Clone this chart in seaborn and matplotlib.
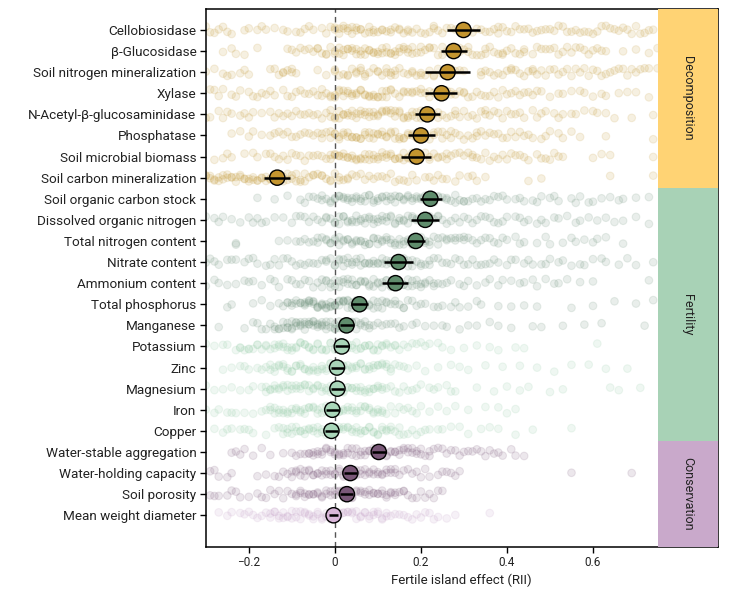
import matplotlib
matplotlib.use("Agg")
import matplotlib.pyplot as plt
import numpy as np
import pandas as pd
import seaborn as sns

labels = [
    "Cellobiosidase", "β-Glucosidase", "Soil nitrogen mineralization", "Xylase",
    "N-Acetyl-β-glucosaminidase", "Phosphatase", "Soil microbial biomass",
    "Soil carbon mineralization", "Soil organic carbon stock",
    "Dissolved organic nitrogen", "Total nitrogen content", "Nitrate content",
    "Ammonium content", "Total phosphorus", "Manganese", "Potassium", "Zinc",
    "Magnesium", "Iron", "Copper", "Water-stable aggregation",
    "Water-holding capacity", "Soil porosity", "Mean weight diameter",
]

# mean RII and error bar limits
mean_rii = [0.299, 0.276, 0.262, 0.248, 0.215, 0.200, 0.190, -0.134,
            0.222, 0.210, 0.188, 0.148, 0.141, 0.057, 0.027, 0.016, 0.005,
            0.006, -0.006, -0.008, 0.102, 0.036, 0.028, -0.003]
err_low = [0.261, 0.247, 0.210, 0.210, 0.187, 0.170, 0.154, -0.165,
           0.199, 0.177, 0.167, 0.115, 0.110, 0.037, 0.012, 0.000, -0.010,
           -0.009, -0.021, -0.022, 0.087, 0.021, 0.013, -0.013]
err_high = [0.338, 0.306, 0.315, 0.285, 0.244, 0.232, 0.224, -0.104,
            0.248, 0.243, 0.210, 0.182, 0.171, 0.078, 0.044, 0.033, 0.022,
            0.022, 0.010, 0.008, 0.118, 0.052, 0.043, 0.008]

# shade of each row: significant rows dark, others light
row_shade = ["dec"] * 8 + ["fer_dark"] * 7 + ["fer_light"] * 5 + ["con_dark"] * 3 + ["con_light"]

# individual observations (RII x 100), estimated from the scatter
pts_cellobiosidase = [-30, -29, -27, -25, -24, -21, -18, -17, -14, -12, -11, -8, -7, -6, -3, -2, 0, 0, 1, 2, 3, 4, 5, 5, 7, 8, 9, 10, 12, 13, 14, 15, 15, 17, 19, 20, 22, 23, 24, 26, 28, 29, 31, 33, 34, 36, 37, 38, 39, 41, 43, 44, 47, 48, 50, 52, 53, 55, 56, 58, 60, 61, 62, 64, 66, 67, 69, 71, 72, 74,
                      -28, -26, -20, -16, -9, -5, -1, 1, 2, 3, 4, 6, 6, 8, 9, 11, 11, 13, 16, 17, 18, 21, 23, 25, 27, 30, 32, 35, 38, 40, 42, 45, 46, 49, 51, 54, 57, 59, 63, 65, 68, 70, 73]
pts_glucosidase = [-26, -23, -21, -18, -11, -9, -8, -6, -5, -4, -3, -2, -1, 0, 1, 2, 3, 4, 5, 6, 7, 8, 9, 10, 11, 12, 13, 14, 15, 16, 17, 18, 18, 20, 21, 22, 23, 25, 26, 27, 28, 29, 30, 31, 32, 34, 35, 36, 38, 39, 40, 42, 43, 44, 46, 47, 49, 50, 51, 52, 54, 55, 56, 58, 60, 61, 63, 67, 70, 73, 75,
                   -24, -10, -7, -4, -2, 0, 1, 2, 3, 4, 5, 6, 7, 8, 9, 10, 11, 12, 13, 14, 15, 16, 17, 19, 20, 22, 24, 25, 27, 29, 31, 33, 35, 37, 39, 41, 44, 48, 53, 57, 59, 62]
pts_n_mineral = [-30, -28, -26, -24, -22, -21, -20, -15, -13, -12, -11, -10, -9, -4, -2, 0, 1, 3, 4, 5, 6, 7, 8, 10, 11, 12, 13, 14, 15, 17, 18, 19, 20, 22, 23, 24, 26, 27, 28, 30, 34, 35, 37, 38, 40, 41, 42, 44, 45, 46, 48, 49, 51, 52, 54, 55, 57, 58, 59, 61, 63, 64, 66, 67, 69, 71, 73, 75,
                 -25, -14, -12, -10, 0, 2, 3, 5, 6, 7, 9, 10, 12, 13, 14, 16, 18, 20, 21, 23, 25, 27, 29, 34, 36, 39, 41, 43, 46, 47, 50, 53, 56, 60, 62, 65, 68, 70, 72]
pts_xylase = [-31, -29, -27, -26, -24, -22, -20, -18, -17, -16, -14, -12, -11, -10, -8, -7, -5, -4, -3, -2, -1, 0, 1, 2, 3, 4, 5, 6, 7, 8, 9, 10, 11, 12, 13, 14, 16, 17, 18, 19, 20, 21, 22, 23, 25, 26, 27, 28, 29, 30, 31, 33, 34, 35, 37, 38, 40, 41, 43, 44, 46, 48, 50, 52, 55, 58, 60, 63, 66, 68, 70, 73,
              -28, -23, -19, -15, -9, -6, -3, -1, 0, 1, 2, 3, 4, 5, 6, 7, 8, 9, 10, 11, 12, 13, 15, 16, 18, 20, 22, 24, 27, 30, 32, 36, 39, 42, 45, 47, 53, 57, 62]
pts_nag = [-30, -29, -27, -25, -24, -22, -21, -19, -17, -15, -14, -12, -11, -10, -8, -7, -6, -4, -3, -1, 0, 1, 2, 3, 4, 5, 6, 7, 8, 9, 10, 11, 12, 13, 14, 15, 16, 17, 18, 19, 20, 21, 22, 23, 24, 25, 27, 28, 29, 30, 32, 33, 34, 35, 36, 38, 39, 41, 42, 44, 46, 47, 49, 51, 53, 56, 58, 61, 63, 65, 69, 74,
           -26, -20, -13, -9, -5, -2, -1, 0, 1, 2, 3, 4, 5, 6, 7, 8, 9, 10, 11, 12, 13, 14, 15, 16, 17, 18, 19, 20, 22, 24, 26, 28, 31, 35, 37, 40, 43, 48, 52, 55, 60]
pts_phosphatase = [-24, -22, -19, -17, -15, -14, -12, -11, -9, -8, -7, -5, -4, -3, -2, -1, 0, 1, 2, 3, 4, 5, 6, 7, 8, 9, 10, 11, 12, 13, 14, 15, 16, 17, 18, 19, 20, 21, 22, 23, 24, 25, 26, 27, 28, 29, 31, 32, 33, 34, 35, 37, 38, 40, 42, 43, 44, 46, 48, 50, 53, 55, 57, 63, 74,
                   -20, -13, -10, -6, -3, -1, 0, 1, 2, 3, 4, 5, 6, 7, 8, 9, 10, 11, 12, 13, 14, 15, 16, 17, 18, 19, 20, 21, 23, 25, 27, 30, 33, 36, 39, 41, 45, 49, 52]
pts_mic_biomass = [-28, -26, -25, -21, -19, -18, -16, -14, -13, -11, -10, -9, -8, -6, -5, -3, -2, -1, 0, 1, 2, 3, 4, 5, 6, 7, 8, 9, 10, 11, 12, 13, 14, 15, 16, 17, 18, 19, 20, 21, 22, 23, 24, 25, 26, 27, 28, 30, 31, 32, 33, 35, 36, 37, 39, 40, 41, 43, 45, 47, 49, 51, 53, 60, 62, 64, 74,
                   -24, -15, -12, -7, -4, -1, 0, 1, 2, 3, 4, 5, 6, 7, 8, 9, 10, 11, 12, 13, 14, 15, 16, 17, 18, 20, 22, 24, 26, 29, 32, 34, 38, 42, 44, 48, 50, 52]
pts_c_mineral = [-31, -30, -30, -29, -28, -27, -27, -26, -25, -25, -24, -23, -22, -21, -21, -20, -19, -19, -18, -17, -16, -16, -15, -14, -13, -12, -12, -11, -10, -9, -8, -8, -7, -6, -5, -4, -3, -2, -1, 0, 1, 2, 3, 4, 6, 7, 9, 10, 11, 13, 14, 16, 17, 19, 21, 23, 24, 26, 29, 31, 33, 35, 45, 48, 64, 74,
                 -31, -29, -28, -26, -24, -23, -22, -20, -18, -17, -15, -14, -13, -11, -10, -9, -7, -5, -3, -1, 1, 3, 5, 8, 12, 15, 18, 22, 25, 28, 32]
pts_soc_stock = [-18, -14, -11, -8, -7, -5, -4, -3, -2, -1, 0, 1, 2, 3, 4, 5, 6, 7, 8, 9, 10, 11, 12, 13, 14, 15, 16, 17, 18, 19, 20, 21, 22, 23, 24, 25, 26, 27, 28, 29, 30, 31, 33, 34, 35, 37, 38, 40, 42, 44, 46, 48, 50, 52, 55, 57, 59, 62, 64, 67, 73,
                 -6, -3, -1, 0, 1, 2, 3, 4, 5, 6, 7, 8, 9, 10, 11, 12, 13, 14, 15, 16, 17, 18, 19, 20, 21, 22, 24, 26, 28, 30, 32, 36, 39, 43, 47, 51, 56, 60, 66, 70]
pts_don = [-30, -28, -27, -24, -22, -20, -19, -17, -16, -14, -12, -9, -8, -6, -4, -3, -2, -1, 0, 1, 2, 3, 4, 5, 6, 7, 8, 9, 10, 11, 12, 13, 14, 15, 16, 17, 18, 19, 20, 21, 22, 23, 24, 25, 26, 28, 29, 30, 32, 33, 35, 37, 38, 40, 42, 43, 45, 47, 49, 52, 54, 57, 61, 63, 67, 73,
           -26, -18, -10, -7, -5, -2, 0, 1, 2, 3, 4, 5, 6, 7, 8, 9, 10, 11, 12, 13, 14, 15, 16, 17, 18, 19, 20, 22, 24, 27, 31, 34, 36, 39, 44, 48, 51, 56, 59, 65, 70]
pts_total_n = [-23, -23, -13, -11, -8, -6, -5, -4, -3, -2, -1, 0, 1, 2, 3, 4, 5, 6, 7, 8, 9, 10, 11, 12, 13, 14, 15, 16, 17, 18, 19, 20, 21, 22, 23, 24, 25, 26, 27, 28, 29, 30, 31, 33, 34, 35, 37, 38, 40, 42, 44, 47, 50, 53, 56, 58, 61, 63, 67,
               -9, -7, -4, -2, -1, 0, 1, 2, 3, 4, 5, 6, 7, 8, 9, 10, 11, 12, 13, 14, 15, 16, 17, 18, 19, 20, 21, 22, 24, 26, 28, 30, 32, 36, 39, 43, 49, 55, 60]
pts_nitrate = [-30, -28, -27, -25, -23, -21, -20, -18, -16, -15, -13, -12, -10, -9, -7, -6, -5, -3, -2, -1, 0, 1, 2, 3, 4, 5, 6, 7, 8, 9, 10, 11, 12, 13, 14, 15, 16, 17, 18, 19, 20, 21, 22, 23, 25, 26, 27, 29, 30, 31, 33, 35, 36, 38, 40, 42, 44, 46, 48, 50, 53, 55, 57, 60, 63, 66, 70, 74,
               -29, -24, -19, -14, -11, -8, -4, -2, 0, 1, 2, 3, 4, 5, 6, 7, 8, 9, 10, 11, 12, 13, 14, 15, 16, 17, 18, 20, 22, 24, 28, 32, 34, 37, 41, 45, 49, 52, 58, 62, 68]
pts_ammonium = [-30, -28, -25, -23, -21, -19, -17, -15, -13, -11, -10, -8, -7, -5, -4, -3, -2, -1, 0, 1, 2, 3, 4, 5, 6, 7, 8, 9, 10, 11, 12, 13, 14, 15, 16, 17, 18, 19, 20, 21, 22, 23, 24, 25, 27, 29, 31, 33, 36, 39, 41, 44, 47, 49, 51, 54, 57, 60, 73,
                -27, -20, -14, -9, -6, -3, -2, -1, 0, 1, 2, 3, 4, 5, 6, 7, 8, 9, 10, 11, 12, 13, 14, 15, 16, 17, 18, 19, 20, 21, 23, 26, 30, 35, 38, 43, 46, 52]
pts_total_p = [-25, -24, -19, -17, -15, -13, -11, -10, -9, -8, -7, -7, -6, -5, -5, -4, -3, -3, -2, -1, -1, 0, 0, 1, 2, 2, 3, 4, 5, 5, 6, 7, 8, 9, 10, 11, 12, 13, 14, 15, 16, 17, 19, 21, 23, 25, 27, 29, 31, 33, 34, 41, 47, 55, 70, 74,
               -12, -11, -10, -9, -8, -7, -6, -6, -5, -4, -4, -3, -2, -2, -1, 0, 1, 1, 2, 3, 3, 4, 4, 6, 7, 8, 9, 10, 11, 12, 14, 16, 18, 20, 24, 28, 38, 44, 60, 65]
pts_manganese = [-27, -21, -19, -17, -16, -15, -14, -13, -12, -11, -10, -10, -9, -8, -8, -7, -6, -6, -5, -4, -3, -3, -2, -1, 0, 0, 1, 2, 3, 4, 5, 6, 7, 8, 9, 10, 12, 14, 16, 18, 21, 23, 26, 29, 33, 38, 46, 53, 58, 62, 72,
                 -18, -14, -13, -12, -11, -11, -10, -9, -9, -8, -7, -7, -6, -5, -5, -4, -4, -3, -2, -2, -1, 0, 1, 1, 2, 3, 4, 5, 6, 7, 8, 11, 13, 15, 19, 25, 31, 36, 41, 48]
pts_potassium = [-30, -28, -26, -23, -22, -21, -20, -19, -18, -17, -16, -15, -14, -13, -12, -11, -10, -9, -8, -7, -6, -5, -4, -3, -2, -1, 0, 1, 2, 3, 4, 5, 6, 7, 8, 9, 10, 11, 12, 13, 14, 15, 16, 18, 20, 22, 24, 27, 30, 36, 38, 42, 44, 61,
                 -25, -22, -20, -18, -16, -14, -13, -12, -11, -10, -9, -8, -7, -6, -5, -4, -3, -2, -1, 0, 1, 2, 3, 4, 5, 6, 7, 8, 9, 10, 11, 12, 14, 17, 19, 21, 25, 33]
pts_zinc = [-26, -24, -22, -20, -18, -16, -15, -14, -13, -12, -11, -10, -9, -8, -7, -6, -5, -4, -3, -2, -1, 0, 1, 2, 3, 4, 5, 6, 7, 8, 9, 10, 11, 12, 13, 14, 15, 17, 19, 24, 29, 31, 39, 43, 51, 55, 63, 68,
            -21, -17, -15, -14, -13, -12, -11, -10, -9, -8, -7, -6, -5, -4, -3, -2, -1, 0, 1, 2, 3, 4, 5, 6, 7, 8, 9, 10, 11, 12, 13, 16, 21, 27, 35, 47, 59]
pts_magnesium = [-30, -28, -24, -22, -19, -17, -16, -15, -14, -13, -12, -11, -10, -9, -8, -7, -6, -5, -4, -3, -2, -1, 0, 1, 2, 3, 4, 5, 6, 7, 8, 9, 10, 11, 12, 14, 16, 18, 20, 22, 24, 26, 28, 37, 40, 43, 50, 53, 64, 66, 71,
                 -26, -20, -16, -15, -14, -13, -12, -11, -10, -9, -8, -7, -6, -5, -4, -3, -2, -1, 0, 1, 2, 3, 4, 5, 6, 7, 8, 9, 10, 11, 13, 15, 17, 19, 23, 27, 33, 45]
pts_iron = [-30, -27, -25, -23, -21, -17, -16, -15, -14, -13, -12, -11, -10, -9, -8, -7, -6, -5, -4, -3, -2, -1, 0, 1, 2, 3, 4, 5, 6, 7, 8, 9, 10, 11, 12, 13, 15, 17, 19, 22, 24, 28, 35, 40, 42,
            -28, -24, -19, -15, -14, -13, -12, -11, -10, -9, -8, -7, -6, -5, -4, -3, -2, -1, 0, 1, 2, 3, 4, 5, 6, 7, 8, 9, 10, 11, 14, 16, 18, 20, 26, 31, 38]
pts_copper = [-28, -26, -24, -22, -20, -19, -14, -13, -12, -11, -10, -9, -8, -7, -6, -5, -4, -3, -2, -1, 0, 1, 2, 3, 4, 5, 6, 7, 8, 9, 10, 11, 12, 13, 14, 15, 16, 18, 20, 22, 24, 27, 31, 34, 38, 46, 55,
              -25, -21, -16, -12, -11, -10, -9, -8, -7, -6, -5, -4, -3, -2, -1, 0, 1, 2, 3, 4, 5, 6, 7, 8, 9, 10, 11, 12, 13, 15, 17, 19, 21, 25, 29, 36, 42]
pts_wsa = [-24, -23, -21, -19, -17, -12, -10, -8, -7, -6, -5, -4, -3, -2, -1, 0, 1, 2, 3, 4, 5, 6, 7, 8, 9, 10, 11, 12, 13, 14, 15, 16, 17, 18, 19, 20, 21, 22, 23, 24, 26, 27, 29, 30, 32, 34, 36, 38, 41, 44,
           -22, -15, -9, -6, -5, -4, -3, -2, -1, 0, 1, 2, 3, 4, 5, 6, 7, 8, 9, 10, 11, 12, 13, 14, 15, 16, 17, 18, 19, 20, 22, 25, 28, 31, 33, 35, 37, 39, 42]
pts_whc = [-29, -28, -25, -24, -16, -14, -12, -11, -10, -9, -8, -7, -6, -5, -4, -3, -2, -1, 0, 1, 2, 3, 4, 5, 6, 7, 8, 9, 10, 11, 12, 13, 14, 15, 16, 18, 20, 21, 24, 26, 27, 29, 55, 69,
           -27, -18, -13, -10, -9, -8, -7, -6, -5, -4, -3, -2, -1, 0, 1, 2, 3, 4, 5, 6, 7, 8, 9, 10, 11, 12, 13, 14, 17, 19, 22, 25, 28]
pts_porosity = [-29, -27, -25, -23, -22, -18, -16, -15, -13, -11, -9, -8, -7, -6, -5, -4, -3, -2, -1, 0, 1, 2, 3, 4, 5, 6, 7, 8, 9, 10, 11, 12, 13, 14, 15, 16, 17, 19, 21, 23, 25,
                -28, -24, -20, -17, -14, -12, -10, -9, -8, -7, -6, -5, -4, -3, -2, -1, 0, 1, 2, 3, 4, 5, 6, 7, 8, 9, 10, 11, 12, 13, 14, 16, 18, 20, 22, 24]
pts_mwd = [-27, -24, -21, -20, -19, -17, -16, -15, -14, -13, -12, -11, -10, -9, -8, -7, -6, -5, -4, -3, -2, -1, 0, 1, 2, 3, 4, 5, 6, 7, 8, 9, 10, 11, 12, 13, 14, 16, 18, 20, 22, 24, 28, 36,
           -25, -22, -18, -15, -14, -13, -12, -11, -10, -9, -8, -7, -6, -5, -4, -3, -2, -1, 0, 1, 2, 3, 4, 5, 6, 7, 8, 9, 10, 11, 12, 15, 17, 19, 21, 23, 26]

row_points = [
    pts_cellobiosidase, pts_glucosidase, pts_n_mineral, pts_xylase, pts_nag,
    pts_phosphatase, pts_mic_biomass, pts_c_mineral, pts_soc_stock, pts_don,
    pts_total_n, pts_nitrate, pts_ammonium, pts_total_p, pts_manganese,
    pts_potassium, pts_zinc, pts_magnesium, pts_iron, pts_copper, pts_wsa,
    pts_whc, pts_porosity, pts_mwd,
]

groups = ["Decomposition", "Fertility", "Conservation"]
group_rows = [(0, 7), (8, 19), (20, 23)]

mean_colors = {"dec": "#C4952F", "fer_dark": "#5F8C6C", "fer_light": "#A9D6B9",
               "con_dark": "#7A5878", "con_light": "#D9B6D9"}
point_colors = {"dec": "#C2962F", "fer_dark": "#668C74", "fer_light": "#8FCAA3",
                "con_dark": "#7A5679", "con_light": "#C49FC7"}
panel_colors = ["#FFD374", "#A8D2B6", "#C9A9CB"]

obs = pd.DataFrame(
    [(lab, v / 100) for lab, vals in zip(labels, row_points) for v in vals],
    columns=["variable", "rii"],
)
row_palette = {lab: point_colors[s] for lab, s in zip(labels, row_shade)}

sns.set_style("ticks")
plt.rcParams["font.family"] = ["Roboto", "DejaVu Sans"]
np.random.seed(7)

fig = plt.figure(figsize=(7.43, 5.9), dpi=100)
ax = fig.add_axes([0.277, 0.073, 0.689, 0.912])

sns.stripplot(
    data=obs, x="rii", y="variable", hue="variable", order=labels,
    palette=row_palette, jitter=0.2, size=5.5, alpha=0.14,
    linewidth=0.8, edgecolor="face", legend=False, ax=ax, zorder=1,
)

ax.axvline(0, color="#555555", lw=1, ls=(0, (4, 3)), zorder=2)

ypos = np.arange(len(labels))
ax.scatter(mean_rii, ypos, s=120, c=[mean_colors[s] for s in row_shade],
           edgecolors="black", linewidths=1, zorder=3)
ax.hlines(ypos, err_low, err_high, color="black", lw=1.8, zorder=4)

x_right = 0.89
for name, (r0, r1), col in zip(groups, group_rows, panel_colors):
    y0 = -1.0 if r0 == 0 else r0 - 0.5
    y1 = 24.5 if r1 == len(labels) - 1 else r1 + 0.5
    ax.fill_betweenx([y0, y1], 0.75, x_right, color=col, lw=0, zorder=5)
    ax.text(0.82, (y0 + y1) / 2, name, rotation=-90, ha="center", va="center",
            fontsize=9, color="#222222", zorder=6)

ax.set_xlim(-0.3, x_right)
ax.set_ylim(24.5, -1.0)
ax.set_xticks([-0.2, 0, 0.2, 0.4, 0.6])
ax.set_xticklabels(["−0.2", "0", "0.2", "0.4", "0.6"])
ax.set_xlabel("Fertile island effect (RII)", fontsize=9.5, color="#222222", labelpad=3)
ax.set_ylabel("")
ax.tick_params(axis="both", direction="out", length=4.3, width=1, color="black",
               labelcolor="#222222", pad=2.5)
ax.tick_params(axis="y", labelsize=9.7)
ax.tick_params(axis="x", labelsize=8.5)
for side in ["left", "right", "top", "bottom"]:
    ax.spines[side].set_visible(True)
    ax.spines[side].set_color("black")
    ax.spines[side].set_linewidth(1.1)

fig.savefig("out.png", dpi=100)
